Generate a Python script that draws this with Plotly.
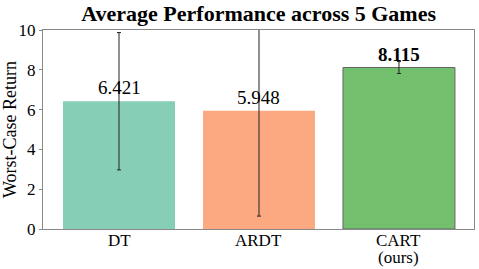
import plotly.graph_objects as go

methods = ["DT", "ARDT", "CART"]
method_notes = ["", "", "(ours)"]
values = [6.421, 5.948, 8.115]
errors = [3.45, 5.3, 0.3]
labels = ["6.421", "5.948", "<b>8.115</b>"]
colors = ["#86cfb6", "#fca880", "#72bf6e"]
line_colors = ["rgba(0,0,0,0)", "rgba(0,0,0,0)", "#666666"]

SERIF = "Liberation Serif, Times New Roman, serif"

fig = go.Figure()
fig.add_trace(go.Bar(
    x=methods, y=values, width=0.8,
    marker=dict(color=colors, line=dict(color=line_colors, width=1)),
    error_y=dict(type="data", array=errors, visible=True, color="#222222", thickness=1, width=2),
    showlegend=False, hoverinfo="skip",
))
for m, v, t in zip(methods, values, labels):
    fig.add_annotation(x=m, y=v, text=t, showarrow=False, yanchor="bottom", yshift=1,
                       font=dict(family=SERIF, size=19, color="black"))
for m, n in zip(methods, method_notes):
    fig.add_annotation(x=m, y=0, yref="paper", text=m, showarrow=False, yanchor="middle",
                       yshift=-11, font=dict(family=SERIF, size=17, color="black"))
    if n:
        fig.add_annotation(x=m, y=0, yref="paper", text=n, showarrow=False, yanchor="middle",
                           yshift=-28, font=dict(family=SERIF, size=17, color="black"))

fig.update_layout(
    width=479, height=269,
    margin=dict(l=43, r=5, t=30, b=40, autoexpand=False),
    paper_bgcolor="white", plot_bgcolor="white",
    font=dict(family=SERIF, color="black"),
    title=dict(text="<b>Average Performance across 5 Games</b>", x=0.54, xanchor="center",
               y=0.952, yanchor="middle", font=dict(size=22, family=SERIF)),
    bargap=0.2,
)
fig.update_xaxes(range=[-0.543, 2.536], showline=True, linecolor="#888888", mirror=True,
                 ticks="", showticklabels=False, automargin=False)
fig.update_yaxes(range=[0, 10], showline=True, linecolor="#888888", mirror=True,
                 ticks="outside", ticklen=3, tickcolor="#888888", showgrid=False, zeroline=False,
                 dtick=2, tickfont=dict(size=17, family=SERIF), automargin=False,
                 title=dict(text="Worst-Case Return", font=dict(size=18, family=SERIF), standoff=4))
fig.write_html("out.html", config={"displayModeBar": False},
               post_script="document.body.style.margin='0';")
